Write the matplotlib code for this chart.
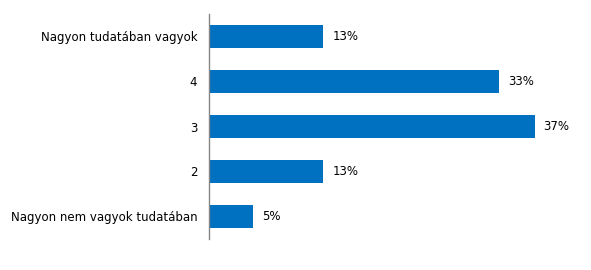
import matplotlib.pyplot as plt

# adatok
categories = ['Nagyon tudatában vagyok', '4', '3', '2', 'Nagyon nem vagyok tudatában']
values = [13, 33, 37, 13, 5]

fig = plt.figure(figsize=(5.91, 2.70), dpi=100)
ax = fig.add_axes([209 / 591, 1 - 239 / 270, 352 / 591, 225 / 270])

y = list(range(len(categories)))[::-1]
ax.barh(y, values, height=0.49, color='#0070C0')

for yi, v in zip(y, values):
    ax.text(v + 1.0, yi, f'{v}%', va='center', ha='left', fontsize=8.5, color='#000000')

ax.set_yticks(y)
ax.set_yticklabels(categories, fontsize=8.5)
ax.set_ylim(-0.5, len(categories) - 0.5)
ax.set_xlim(0, 40)
ax.set_xticks([])
ax.tick_params(axis='y', length=0, pad=8.5)

for s in ['top', 'right', 'bottom']:
    ax.spines[s].set_visible(False)
ax.spines['left'].set_color('#868686')
ax.spines['left'].set_linewidth(1)

fig.savefig('out.png', dpi=100)
